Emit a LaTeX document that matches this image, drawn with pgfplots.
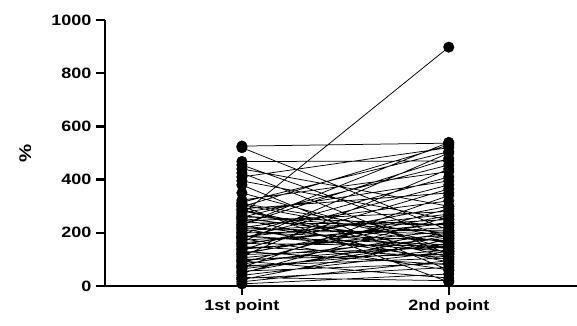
\documentclass[border=0pt]{standalone}
\usepackage{fontspec}
\setmainfont{Liberation Sans}[FakeStretch=1.2]
\usepackage{pgfplots}
\usepackage{pgfplotstable}
\pgfplotsset{compat=1.18}
\pgfplotstableread{
x y
1 526
2 537
1 nan
1 520
2 210
1 nan
1 468
2 470
1 nan
1 455
2 180
1 nan
1 440
2 300
1 nan
1 425
2 120
1 nan
1 410
2 520
1 nan
1 395
2 250
1 nan
1 380
2 60
1 nan
1 350
2 140
1 nan
1 323
2 430
1 nan
1 315
2 505
1 nan
1 305
2 160
1 nan
1 300
2 15
1 nan
1 298
2 530
1 nan
1 290
2 350
1 nan
1 283
2 110
1 nan
1 276
2 395
1 nan
1 270
2 898
1 nan
1 264
2 200
1 nan
1 260
2 230
1 nan
1 258
2 455
1 nan
1 250
2 90
1 nan
1 244
2 280
1 nan
1 238
2 230
1 nan
1 232
2 480
1 nan
1 230
2 540
1 nan
1 226
2 140
1 nan
1 220
2 320
1 nan
1 214
2 100
1 nan
1 208
2 250
1 nan
1 202
2 170
1 nan
1 200
2 210
1 nan
1 196
2 410
1 nan
1 190
2 130
1 nan
1 184
2 270
1 nan
1 180
2 380
1 nan
1 178
2 60
1 nan
1 172
2 220
1 nan
1 166
2 500
1 nan
1 160
2 150
1 nan
1 154
2 300
1 nan
1 148
2 110
1 nan
1 142
2 190
1 nan
1 136
2 365
1 nan
1 130
2 80
1 nan
1 124
2 240
1 nan
1 118
2 145
1 nan
1 112
2 440
1 nan
1 106
2 180
1 nan
1 100
2 120
1 nan
1 94
2 30
1 nan
1 88
2 290
1 nan
1 82
2 200
1 nan
1 76
2 105
1 nan
1 70
2 340
1 nan
1 64
2 160
1 nan
1 56
2 85
1 nan
1 48
2 260
1 nan
1 40
2 130
1 nan
1 32
2 20
1 nan
1 24
2 175
1 nan
1 16
2 95
1 nan
1 8
2 45
1 nan
1 310
2 185
1 nan
1 286
2 125
1 nan
1 254
2 165
1 nan
1 218
2 195
1 nan
1 186
2 155
1 nan
1 162
2 235
1 nan
1 138
2 205
1 nan
1 120
2 265
1 nan
1 96
2 150
1 nan
1 72
2 135
1 nan
1 52
2 190
1 nan
1 28
2 70
}\pairs
\begin{document}
\begin{tikzpicture}
\useasboundingbox (0,0) rectangle (577pt,325pt);
\begin{axis}[
  at={(105pt,39pt)}, anchor=south west,
  scale only axis, width=472pt, height=266pt,
  xmin=0.338, xmax=2.62, ymin=0, ymax=1000,
  axis x line=bottom, axis y line=left,
  axis line style={line width=2.8pt, -},
  xtick={1,2}, xticklabels={1st point, 2nd point},
  ytick={0,200,400,600,800,1000},
  tick style={line width=2.5pt, black},
  tick align=outside, major tick length=9pt,
  unbounded coords=jump,
  /pgf/number format/1000 sep={},
  /pgf/number format/assume math mode=true,
  ticklabel style={font=\fontsize{15}{18}\selectfont\bfseries},
  yticklabel style={xshift=-1pt},
  xticklabel style={yshift=-1pt},
  ylabel={\fontsize{17}{20}\selectfont\bfseries\%},
  ylabel style={at={(axis description cs:-0.169,0.5)}, anchor=center, rotate=0},
  clip=false,
]
\addplot[black, line width=0.75pt, mark=none] table {\pairs};
\addplot[only marks, mark=*, mark size=5.3pt, black] table {\pairs};
\end{axis}
\end{tikzpicture}
\end{document}
